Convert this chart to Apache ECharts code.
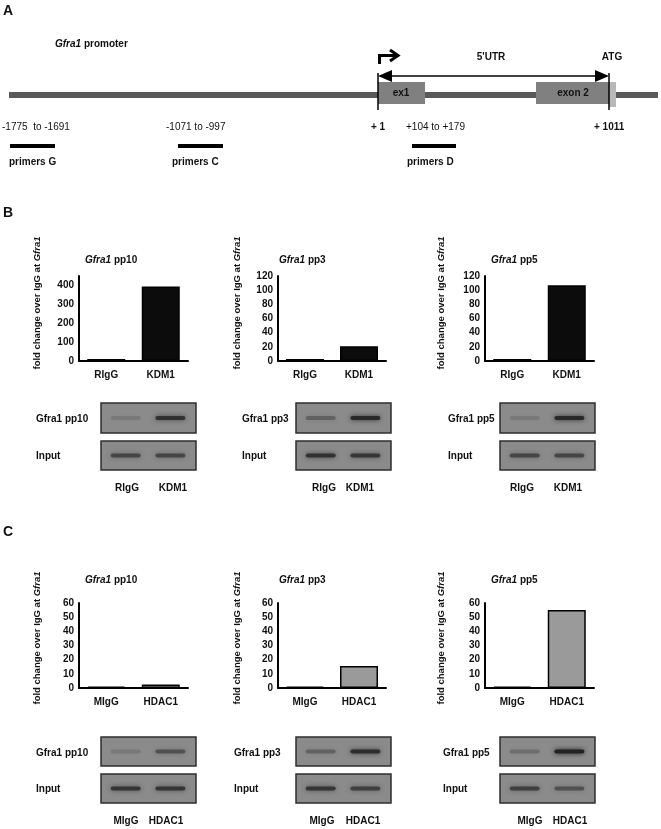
<!DOCTYPE html>
<html>
<head>
<meta charset="utf-8">
<script src="https://cdn.jsdelivr.net/npm/echarts@6/dist/echarts.min.js"></script>
<style>html,body{margin:0;padding:0;background:#fff}#c{width:661px;height:829px}</style>
</head>
<body>
<div id="c"></div>
<script>
// ---- data ----
const catsB = ['RIgG', 'KDM1'];
const catsC = ['MIgG', 'HDAC1'];
const kdm1Pp10 = [10, 395];
const kdm1Pp3 = [3, 21];
const kdm1Pp5 = [3, 107];
const hdac1Pp10 = [1, 2.5];
const hdac1Pp3 = [1, 15.5];
const hdac1Pp5 = [1, 55];
const yMaxB = [450, 120, 120];
const yStepB = [100, 20, 20];
const yMaxC = [60, 60, 60];
const yStepC = [10, 10, 10];
const panelTitles = ['pp10', 'pp3', 'pp5'];
// gel band intensities [lane1, lane2]
const gelB_ip = [[0.15, 0.8], [0.35, 0.9], [0.15, 0.9]];
const gelB_in = [[0.6, 0.6], [0.8, 0.75], [0.6, 0.6]];
const gelC_ip = [[0.15, 0.5], [0.35, 0.85], [0.25, 1.0]];
const gelC_in = [[0.75, 0.75], [0.75, 0.65], [0.65, 0.5]];

const FF = '"Liberation Sans", Arial, sans-serif';
const ink = '#111';

// ---- layout ----
const gridLeft = [79, 278, 485];
const gridW = [109, 108, 109];
const gelX = [101, 296, 500];
const gelW = 95;

function T(x, y, text, o) {
  o = o || {};
  return {
    type: 'text', x: x, y: y, rotation: o.rot || 0, z: 10,
    style: {
      text: text, fill: o.fill || ink,
      font: (o.weight || 'bold') + ' ' + (o.size || 10) + 'px ' + FF,
      align: o.align || 'left', verticalAlign: 'middle',
      rich: {
        i: { fontStyle: 'italic', fontWeight: 'bold', fontSize: o.size || 10, fontFamily: FF, fill: o.fill || ink },
        b: { fontWeight: 'bold', fontSize: o.size || 10, fontFamily: FF, fill: o.fill || ink }
      }
    }
  };
}
function R(x, y, w, h, fill, extra) {
  return Object.assign({ type: 'rect', shape: { x: x, y: y, width: w, height: h }, style: { fill: fill } }, extra || {});
}
function L(x1, y1, x2, y2, w) {
  return { type: 'line', shape: { x1: x1, y1: y1, x2: x2, y2: y2 }, style: { stroke: '#000', lineWidth: w || 1.5 } };
}

const g = [];
// Panel A
g.push(T(3, 11, 'A', { size: 14 }));
g.push(T(55, 44, '{i|Gfra1}{b| promoter}'));
g.push(R(9, 92, 649, 6, '#595959'));
g.push(R(378, 82, 47, 22, '#808080'));
g.push(R(536, 82, 73, 22, '#808080'));
g.push(R(609, 82, 7, 25, '#b8b8b8'));
g.push(T(401, 93, 'ex1', { size: 10, align: 'center' }));
g.push(T(573, 93, 'exon 2', { size: 10, align: 'center' }));
g.push(L(378, 73, 378, 110, 1.5));
g.push(L(609, 73, 609, 110, 1.5));
g.push(L(390, 76, 597, 76, 1.5));
g.push({ type: 'polygon', shape: { points: [[378, 76], [392, 70], [392, 82]] }, style: { fill: '#000' } });
g.push({ type: 'polygon', shape: { points: [[609, 76], [595, 70], [595, 82]] }, style: { fill: '#000' } });
g.push({ type: 'polyline', shape: { points: [[379.5, 64], [379.5, 55.5], [397, 55.5]] }, style: { stroke: '#000', lineWidth: 3, fill: null } });
g.push({ type: 'polyline', shape: { points: [[390, 50], [398, 55.5], [390, 61]] }, style: { stroke: '#000', lineWidth: 3, fill: null } });
g.push(T(491, 57, "5'UTR", { align: 'center' }));
g.push(T(612, 57, 'ATG', { align: 'center' }));
g.push(T(2, 127, '-1775  to -1691', { weight: 'normal' }));
g.push(T(166, 127, '-1071 to -997', { weight: 'normal' }));
g.push(T(371, 127, '+ 1'));
g.push(T(406, 127, '+104 to +179', { weight: 'normal' }));
g.push(T(594, 127, '+ 1011'));
g.push(R(10, 144, 45, 4, '#000'));
g.push(R(178, 144, 45, 4, '#000'));
g.push(R(412, 144, 44, 4, '#000'));
g.push(T(9, 162, 'primers G'));
g.push(T(172, 162, 'primers C'));
g.push(T(407, 162, 'primers D'));

// Panel letters
g.push(T(3, 213, 'B', { size: 14 }));
g.push(T(3, 532, 'C', { size: 14 }));

// chart titles and y-axis names
const titleX = [85, 279, 491];
const nameX = [37, 237, 441];
for (let i = 0; i < 3; i++) {
  g.push(T(titleX[i], 260, '{i|Gfra1}{b| ' + panelTitles[i] + '}'));
  g.push(T(titleX[i], 580, '{i|Gfra1}{b| ' + panelTitles[i] + '}'));
  g.push(T(nameX[i], 303, '{b|fold change over IgG at }{i|Gfra1}', { rot: Math.PI / 2, align: 'center', size: 9.5 }));
  g.push(T(nameX[i], 638, '{b|fold change over IgG at }{i|Gfra1}', { rot: Math.PI / 2, align: 'center', size: 9.5 }));
}

// gels
const gelLabelX_B = [36, 242, 448];
const gelLabelX_C = [36, 234, 443];
const bottomB = [[127, 173], [324, 360], [522, 568]];
const bottomC = [[126, 166], [322, 363], [530, 570]];
function gel(x, y, h, lanes) {
  g.push(R(x, y, gelW, h, '#8b8b8b', { style: { fill: '#8b8b8b', stroke: '#2e2e2e', lineWidth: 1.5 } }));
  const cy = y + h / 2;
  const cx = [x + 0.26 * gelW, x + 0.73 * gelW];
  for (let k = 0; k < 2; k++) {
    const a = lanes[k];
    g.push({
      type: 'rect', z: 5,
      shape: { x: cx[k] - 15, y: cy - 2, width: 30, height: 4, r: 2 },
      style: { fill: 'rgba(35,35,35,' + a + ')', shadowBlur: 5, shadowColor: 'rgba(35,35,35,' + a + ')' }
    });
  }
}
for (let i = 0; i < 3; i++) {
  gel(gelX[i], 403, 30, gelB_ip[i]);
  gel(gelX[i], 441, 29, gelB_in[i]);
  gel(gelX[i], 737, 29, gelC_ip[i]);
  gel(gelX[i], 774, 29, gelC_in[i]);
  g.push(T(gelLabelX_B[i], 419, 'Gfra1 ' + panelTitles[i]));
  g.push(T(gelLabelX_B[i], 456, 'Input'));
  g.push(T(gelLabelX_C[i], 753, 'Gfra1 ' + panelTitles[i]));
  g.push(T(gelLabelX_C[i], 789, 'Input'));
  g.push(T(bottomB[i][0], 488, catsB[0], { align: 'center' }));
  g.push(T(bottomB[i][1], 488, catsB[1], { align: 'center' }));
  g.push(T(bottomC[i][0], 821, catsC[0], { align: 'center' }));
  g.push(T(bottomC[i][1], 821, catsC[1], { align: 'center' }));
}

// ---- charts ----
const grids = [], xAxes = [], yAxes = [], series = [];
const seriesB = [kdm1Pp10, kdm1Pp3, kdm1Pp5];
const seriesC = [hdac1Pp10, hdac1Pp3, hdac1Pp5];
function addChart(idx, top, cats, vals, max, step, fill) {
  grids.push({ left: gridLeft[idx % 3], width: gridW[idx % 3], top: top, height: 85 });
  xAxes.push({
    type: 'category', gridIndex: idx, data: cats,
    axisLine: { lineStyle: { color: '#000', width: 2 } },
    axisTick: { show: false },
    axisLabel: { color: ink, fontWeight: 'bold', fontSize: 10, fontFamily: FF, margin: 9 }
  });
  yAxes.push({
    type: 'value', gridIndex: idx, min: 0, max: max, interval: step,
    axisLine: { show: true, lineStyle: { color: '#000', width: 2 } },
    axisTick: { show: false },
    splitLine: { show: false },
    axisLabel: { color: ink, fontWeight: 'bold', fontSize: 10, fontFamily: FF, margin: 5, showMaxLabel: max % step === 0 }
  });
  series.push({
    type: 'bar', xAxisIndex: idx, yAxisIndex: idx, data: vals, barWidth: 38,
    itemStyle: { color: fill, borderColor: '#000', borderWidth: 1.5 },
    silent: true, animation: false
  });
}
for (let i = 0; i < 3; i++) addChart(i, 276, catsB, seriesB[i], yMaxB[i], yStepB[i], '#0c0c0c');
for (let i = 0; i < 3; i++) addChart(i + 3, 603, catsC, seriesC[i], yMaxC[i], yStepC[i], '#9a9a9a');

const chart = echarts.init(document.getElementById('c'), null, { renderer: 'canvas' });
chart.setOption({
  animation: false,
  backgroundColor: '#fff',
  grid: grids, xAxis: xAxes, yAxis: yAxes, series: series,
  graphic: { elements: g }
});
</script>
</body>
</html>
